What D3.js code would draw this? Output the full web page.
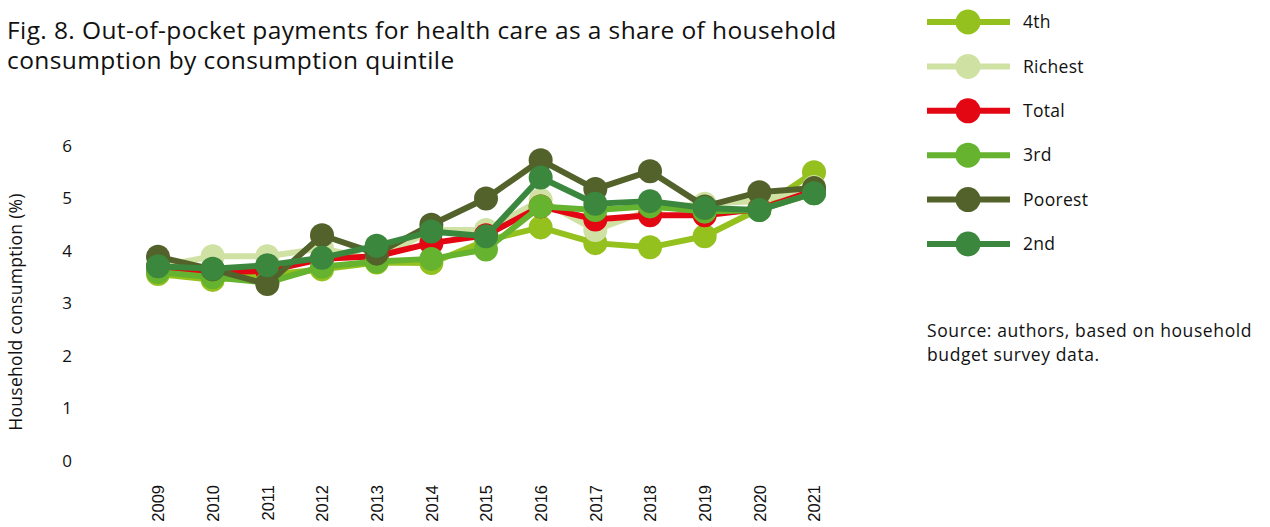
<!DOCTYPE html>
<html><head><meta charset="utf-8">
<script src="https://cdn.jsdelivr.net/npm/d3@7"></script>
<style>body{margin:0;background:#fff}svg{display:block}</style>
</head><body><svg id="c" width="1270" height="527"></svg>
<script>
const years = [2009,2010,2011,2012,2013,2014,2015,2016,2017,2018,2019,2020,2021];
const seriesNames = ["4th","Richest","Total","3rd","Poorest","2nd"];
const seriesColors = ["#95c11f","#d0e1a4","#e30613","#65b32e","#52622a","#3b873e"];
const fourth  = [3.56,3.45,3.55,3.65,3.78,3.77,4.2,4.45,4.15,4.07,4.28,4.8,5.5];
const richest = [3.7,3.9,3.9,4.05,3.83,4.4,4.4,4.97,4.4,4.78,4.9,4.95,5.22];
const total   = [3.7,3.6,3.62,3.85,3.9,4.15,4.3,4.85,4.6,4.68,4.68,4.8,5.15];
const third   = [3.6,3.5,3.4,3.7,3.8,3.85,4.03,4.85,4.78,4.85,4.75,4.78,5.1];
const poorest = [3.89,3.65,3.37,4.3,3.95,4.5,5.0,5.73,5.18,5.52,4.85,5.12,5.2];
const second  = [3.71,3.66,3.73,3.87,4.1,4.37,4.28,5.4,4.9,4.95,4.82,4.78,5.1];
const yTicks = [0,1,2,3,4,5,6];
const allValues = [fourth,richest,total,third,poorest,second];

const FONT = "Open Sans, Noto Sans, sans-serif";
const svg = d3.select("#c");
const x = d3.scalePoint().domain(years).range([158,814]);
const y = d3.scaleLinear().domain([0,6]).range([461,146]);

// title
const t = svg.append("text").attr("font-family",FONT).attr("font-size",24.5).attr("letter-spacing",0.4).attr("fill","#111");
t.append("tspan").attr("x",7).attr("y",39).text("Fig. 8. Out-of-pocket payments for health care as a share of household");
t.append("tspan").attr("x",7).attr("y",69).text("consumption by consumption quintile");

// y axis
const yAxis = d3.axisLeft(y).tickValues(yTicks).tickFormat(d3.format("d")).tickSize(0).tickPadding(0);
const gy = svg.append("g").attr("transform","translate(73,0)").call(yAxis);
gy.select(".domain").remove();
gy.selectAll("text").attr("font-family",FONT).attr("font-size",17).attr("fill","#111").attr("text-anchor","middle").attr("dx","-6");

svg.append("text").attr("transform","translate(22,312) rotate(-90)").attr("text-anchor","middle")
  .attr("font-family",FONT).attr("font-size",17.5).attr("letter-spacing",0.3).attr("fill","#111")
  .text("Household consumption (%)");

// x axis
const xAxis = d3.axisBottom(x).tickSize(0).tickPadding(0);
const gx = svg.append("g").attr("transform","translate(0,485)").call(xAxis);
gx.select(".domain").remove();
gx.selectAll("text").attr("font-family","Liberation Sans, Arial, sans-serif").attr("font-size",16.5).attr("fill","#111")
  .attr("text-anchor","end").attr("transform","rotate(-90)").attr("x",0).attr("y",0).attr("dx",0).attr("dy","0.35em");

// series
const line = d3.line().x((d,i)=>x(years[i])).y(d=>y(d));
seriesNames.forEach((name,k)=>{
  const g = svg.append("g");
  g.append("path").datum(allValues[k]).attr("d",line).attr("fill","none").attr("stroke",seriesColors[k]).attr("stroke-width",6).attr("stroke-linejoin","round");
  g.selectAll("circle").data(allValues[k]).join("circle").attr("cx",(d,i)=>x(years[i])).attr("cy",d=>y(d)).attr("r",12).attr("fill",seriesColors[k]);
});

// legend
const lg = svg.append("g");
seriesNames.forEach((name,k)=>{
  const yy = 22 + k*44.4;
  lg.append("line").attr("x1",927).attr("x2",1010).attr("y1",yy).attr("y2",yy).attr("stroke",seriesColors[k]).attr("stroke-width",6);
  lg.append("circle").attr("cx",968).attr("cy",yy).attr("r",12.5).attr("fill",seriesColors[k]);
  lg.append("text").attr("x",1023).attr("y",yy).attr("dy","0.35em").attr("font-family",FONT).attr("font-size",17.5).attr("letter-spacing",0.3).attr("fill","#111").text(name);
});

const s = svg.append("text").attr("font-family",FONT).attr("font-size",17.5).attr("letter-spacing",0.6).attr("fill","#111");
s.append("tspan").attr("x",927).attr("y",337).text("Source: authors, based on household");
s.append("tspan").attr("x",927).attr("y",361).text("budget survey data.");
</script></body></html>
